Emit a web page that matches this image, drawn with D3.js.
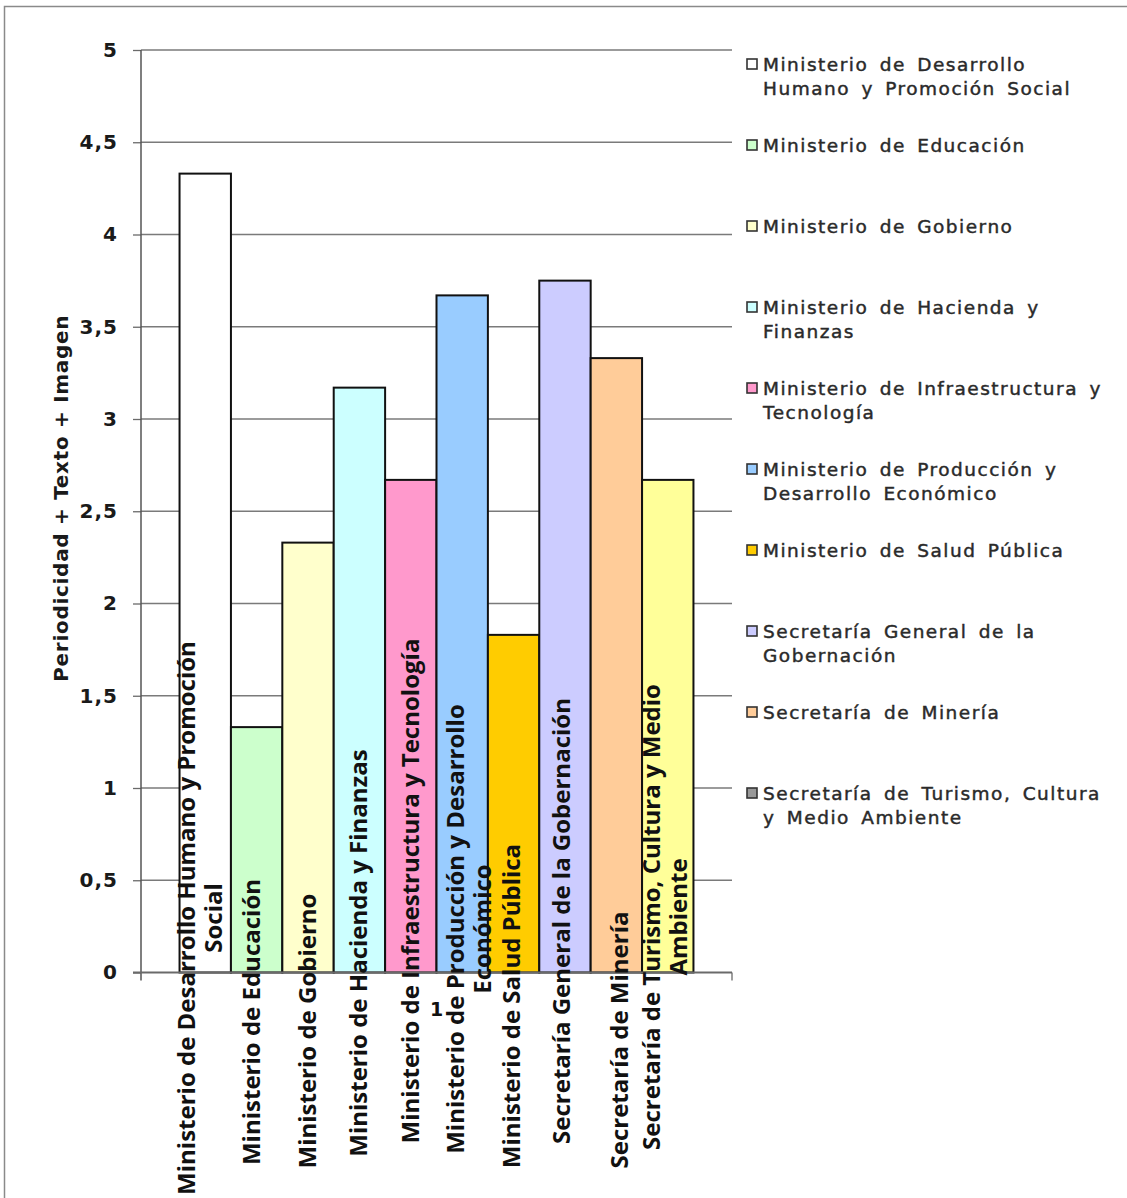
<!DOCTYPE html>
<html>
<head>
<meta charset="utf-8">
<script src="https://cdn.jsdelivr.net/npm/d3@7/dist/d3.min.js"></script>
<style>
  html, body { margin: 0; padding: 0; background: #fff; }
  svg { display: block; }
</style>
</head>
<body>
<svg id="chart" width="1127" height="1198"></svg>
<script>
// Single category on the x axis, one bar per agency
const categories = ["1"];

const seriesNames = [
  "Ministerio de Desarrollo Humano y Promoción Social",
  "Ministerio de Educación",
  "Ministerio de Gobierno",
  "Ministerio de Hacienda y Finanzas",
  "Ministerio de Infraestructura y Tecnología",
  "Ministerio de Producción y Desarrollo Económico",
  "Ministerio de Salud Pública",
  "Secretaría General de la Gobernación",
  "Secretaría de Minería",
  "Secretaría de Turismo, Cultura y Medio Ambiente"
];

const values = [4.33, 1.33, 2.33, 3.17, 2.67, 3.67, 1.83, 3.75, 3.33, 2.67];

const barColors = [
  "#FFFFFF", "#CCFFCC", "#FFFFCC", "#CCFFFF", "#FF99CC",
  "#99CCFF", "#FFCC00", "#CCCCFF", "#FFCC99", "#FFFF99"
];

// legend swatches (the last one is rendered grey in the key)
const legendSwatches = [
  "#FFFFFF", "#CCFFCC", "#FFFFCC", "#CCFFFF", "#FF99CC",
  "#99CCFF", "#FFCC00", "#CCCCFF", "#FFCC99", "#999999"
];

// wrapped text of the legend entries
const legendLines = [
  ["Ministerio de Desarrollo", "Humano y Promoción Social"],
  ["Ministerio de Educación"],
  ["Ministerio de Gobierno"],
  ["Ministerio de Hacienda y", "Finanzas"],
  ["Ministerio de Infraestructura y", "Tecnología"],
  ["Ministerio de Producción y", "Desarrollo Económico"],
  ["Ministerio de Salud Pública"],
  ["Secretaría General de la", "Gobernación"],
  ["Secretaría de Minería"],
  ["Secretaría de Turismo, Cultura", "y Medio Ambiente"]
];

// wrapped text of the rotated series labels
const barLabelLines = [
  ["Ministerio de Desarrollo Humano y Promoción", "Social"],
  ["Ministerio de Educación"],
  ["Ministerio de Gobierno"],
  ["Ministerio de Hacienda y Finanzas"],
  ["Ministerio de Infraestructura y Tecnología"],
  ["Ministerio de Producción y Desarrollo", "Económico"],
  ["Ministerio de Salud Pública"],
  ["Secretaría General de la Gobernación"],
  ["Secretaría de Minería"],
  ["Secretaría de Turismo, Cultura y Medio", "Ambiente"]
];

const yTicks = [0, 0.5, 1, 1.5, 2, 2.5, 3, 3.5, 4, 4.5, 5];
const yTitle = "Periodicidad + Texto + Imagen";

// layout of the rotated series labels: horizontal nudge and vertical middle
const labelNudge = [-4.5, -4.5, 0, 0, 0, 7, -1.5, -2.5, 3.5, -2.5];
const labelMid = [918, 1022, 1031, 953, 891, 929, 1006, 921, 1040, 917];

// ---------------------------------------------------------------
const svg = d3.select("#chart");
const plot = { left: 141, right: 732, top: 50, bottom: 972.5 };

// outer frame (left and top edges)
svg.append("path")
  .attr("d", "M4.5,1198 L4.5,6.5 L1127,6.5")
  .attr("fill", "none").attr("stroke", "#8a8a8a").attr("stroke-width", 1.5);

const y = d3.scaleLinear().domain([0, 5]).range([plot.bottom, plot.top]);

const xCat = d3.scaleBand().domain(categories).range([plot.left, plot.right]);
const xSeries = d3.scaleBand().domain(seriesNames)
  .range([plot.left, plot.right]).paddingInner(0).paddingOuter(0.75);

const fmt = d3.formatLocale({ decimal: ",", thousands: ".", grouping: [3], currency: ["", ""] }).format(".1~f");

// horizontal gridlines
svg.append("g").selectAll("line").data(yTicks.filter(d => d > 0)).join("line")
  .attr("x1", plot.left).attr("x2", plot.right)
  .attr("y1", d => y(d)).attr("y2", d => y(d))
  .attr("stroke", "#7a7a7a").attr("stroke-width", 1.3);

// bars
svg.append("g").selectAll("rect").data(seriesNames).join("rect")
  .attr("x", d => xSeries(d))
  .attr("width", xSeries.bandwidth())
  .attr("y", (d, i) => y(values[i]))
  .attr("height", (d, i) => y(0) - y(values[i]))
  .attr("fill", (d, i) => barColors[i])
  .attr("stroke", "#111").attr("stroke-width", 2);

// y axis
const yAxis = svg.append("g")
  .attr("transform", `translate(${plot.left},0)`)
  .call(d3.axisLeft(y).tickValues(yTicks).tickSize(8).tickPadding(15).tickFormat(fmt));
yAxis.select(".domain").remove();
yAxis.selectAll(".tick line").attr("stroke", "#6a6a6a").attr("stroke-width", 1.3);
yAxis.selectAll(".tick text")
  .attr("font-family", "DejaVu Sans, Verdana, sans-serif")
  .attr("font-weight", "bold").attr("font-size", 20)
  .attr("letter-spacing", 1.0).attr("fill", "#1a1a1a");
svg.append("line")
  .attr("x1", plot.left).attr("x2", plot.left)
  .attr("y1", plot.top).attr("y2", plot.bottom + 8)
  .attr("stroke", "#555").attr("stroke-width", 1.5);

// x axis
const xAxis = svg.append("g")
  .attr("transform", `translate(0,${plot.bottom})`)
  .call(d3.axisBottom(xCat).tickSize(0).tickPadding(30));
xAxis.select(".domain").remove();
xAxis.selectAll(".tick text")
  .attr("font-family", "DejaVu Sans, Verdana, sans-serif")
  .attr("font-weight", "bold").attr("font-size", 19).attr("fill", "#111");
svg.append("line")
  .attr("x1", plot.left - 8).attr("x2", plot.right)
  .attr("y1", plot.bottom).attr("y2", plot.bottom)
  .attr("stroke", "#6a6a6a").attr("stroke-width", 1.8);
svg.append("g").selectAll("line").data(xCat.domain()).join("line")
  .attr("x1", d => xCat(d) + xCat.bandwidth()).attr("x2", d => xCat(d) + xCat.bandwidth())
  .attr("y1", plot.bottom).attr("y2", plot.bottom + 8)
  .attr("stroke", "#6a6a6a").attr("stroke-width", 1.3);

// y axis title
svg.append("text")
  .attr("transform", `translate(68,${(plot.top + plot.bottom) / 2 - 13}) rotate(-90)`)
  .attr("text-anchor", "middle")
  .attr("font-family", "DejaVu Sans, Verdana, sans-serif")
  .attr("font-weight", "bold").attr("font-size", 20)
  .attr("letter-spacing", 0.7).attr("fill", "#1a1a1a")
  .text(yTitle);

// rotated series labels over the bars
const lineGap = 27;
const labels = svg.append("g")
  .attr("font-family", "Open Sans, Noto Sans, sans-serif")
  .attr("font-weight", "bold").attr("font-size", 24).attr("fill", "#111");
seriesNames.forEach((name, i) => {
  const lines = barLabelLines[i];
  const cx = xSeries(name) + xSeries.bandwidth() / 2 + labelNudge[i];
  lines.forEach((ln, j) => {
    const bx = cx + 8 + (j - (lines.length - 1) / 2) * lineGap;
    labels.append("text")
      .attr("transform", `translate(${bx},${labelMid[i]}) rotate(-90)`)
      .attr("text-anchor", "middle")
      .text(ln);
  });
});

// legend
const legendY = d3.scaleLinear().domain([0, seriesNames.length - 1]).range([64, 793]);
const legend = svg.append("g");
seriesNames.forEach((name, i) => {
  const ry = legendY(i);
  legend.append("rect")
    .attr("x", 747).attr("y", ry - 5).attr("width", 10).attr("height", 10)
    .attr("fill", legendSwatches[i]).attr("stroke", "#333").attr("stroke-width", 1.6);
  legendLines[i].forEach((ln, j) => {
    legend.append("text")
      .attr("x", 763).attr("y", ry + j * 24)
      .attr("dy", "0.36em")
      .attr("font-family", "DejaVu Sans, Verdana, sans-serif")
      .attr("font-size", 18.5)
      .attr("letter-spacing", 1.5).attr("word-spacing", 4)
      .attr("fill", "#2a2a2a")
      .attr("stroke", "#2a2a2a").attr("stroke-width", 0.45)
      .text(ln);
  });
});
</script>
</body>
</html>
